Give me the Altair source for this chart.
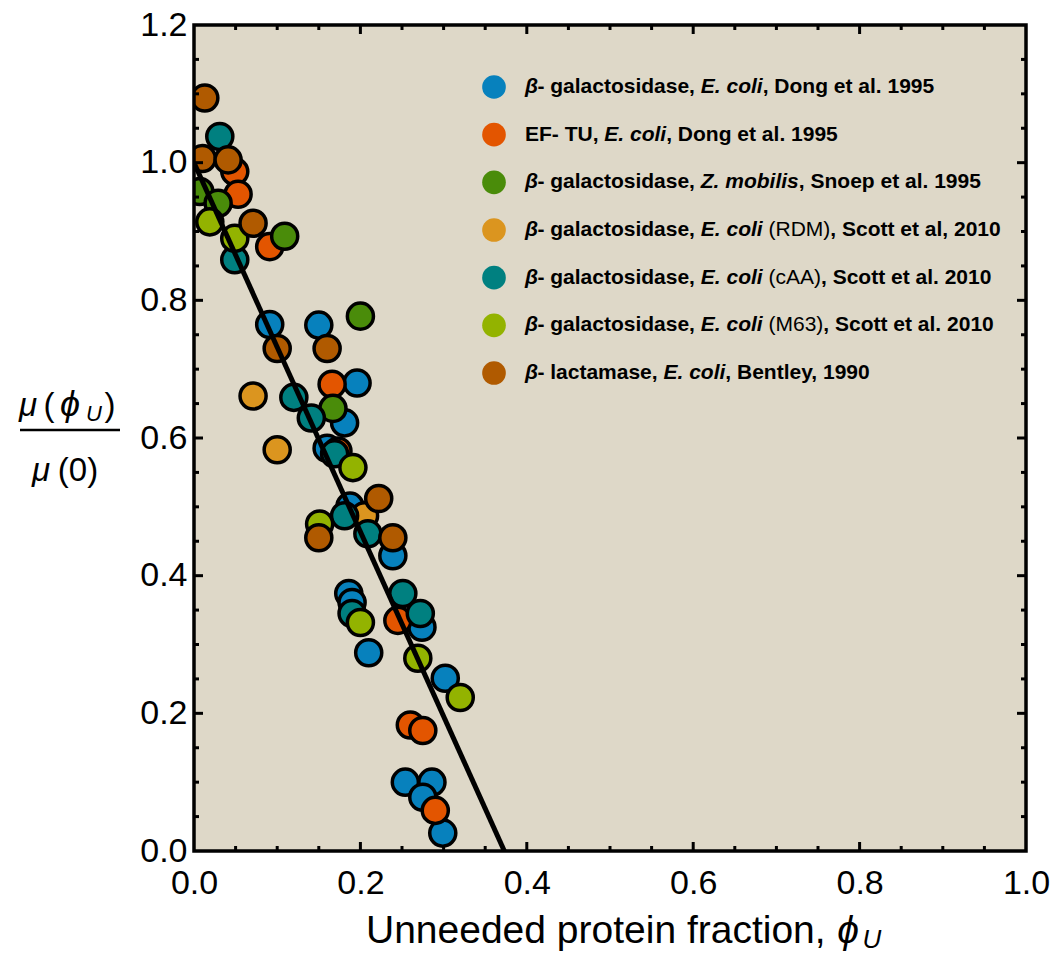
import altair as alt
import pandas as pd

FONT = "Liberation Sans"
BG = "#DED8C8"

series_names = [
    "b-gal E. coli Dong 1995",
    "EF-TU E. coli Dong 1995",
    "b-gal Z. mobilis Snoep 1995",
    "b-gal E. coli RDM Scott 2010",
    "b-gal E. coli cAA Scott 2010",
    "b-gal E. coli M63 Scott 2010",
    "b-lactamase E. coli Bentley 1990",
]
colors = ["#0781BD", "#E35500", "#4A8C0A", "#DB951F", "#008080", "#93B300", "#B05A00"]

blue_x = [0.091, 0.150, 0.196, 0.181, 0.160, 0.1875, 0.239, 0.186, 0.190, 0.210, 0.274, 0.302, 0.254, 0.286, 0.275, 0.299]
blue_y = [0.765, 0.764, 0.680, 0.622, 0.585, 0.501, 0.429, 0.374, 0.361, 0.288, 0.325, 0.251, 0.100, 0.100, 0.078, 0.026]
orange_x = [0.049, 0.053, 0.091, 0.166, 0.173, 0.245, 0.260, 0.275, 0.290]
orange_y = [0.987, 0.954, 0.878, 0.678, 0.581, 0.335, 0.183, 0.175, 0.059]
green_x = [0.007, 0.029, 0.109, 0.200, 0.167]
green_y = [0.958, 0.941, 0.893, 0.777, 0.643]
amber_x = [0.071, 0.100, 0.205]
amber_y = [0.661, 0.583, 0.487]
teal_x = [0.031, 0.049, 0.120, 0.141, 0.169, 0.181, 0.209, 0.251, 0.190, 0.272]
teal_y = [1.038, 0.859, 0.659, 0.629, 0.577, 0.487, 0.461, 0.374, 0.345, 0.345]
ygreen_x = [0.019, 0.049, 0.191, 0.151, 0.200, 0.269, 0.320]
ygreen_y = [0.914, 0.890, 0.557, 0.475, 0.332, 0.280, 0.223]
brown_x = [0.013, 0.010, 0.041, 0.071, 0.100, 0.160, 0.222, 0.150, 0.239]
brown_y = [1.094, 1.006, 1.004, 0.912, 0.730, 0.730, 0.512, 0.455, 0.455]

fit_x = [0.0, 0.373]
fit_y = [1.0, 0.0]

x_labels = [0.0, 0.2, 0.4, 0.6, 0.8, 1.0]
y_labels = [0.0, 0.2, 0.4, 0.6, 0.8, 1.0, 1.2]
x_major = [0.2, 0.4, 0.6, 0.8]
y_major = [0.2, 0.4, 0.6, 0.8, 1.0]
x_minor = [round(i * 0.05, 2) for i in range(1, 20) if i % 4 != 0]
y_minor = [round(i * 0.05, 2) for i in range(1, 24) if i % 4 != 0]

legend_rows = [
    [("β", "bi"), ("- galactosidase, ", "b"), ("E. coli", "bi"), (", Dong et al. 1995", "b")],
    [("EF- TU, ", "b"), ("E. coli", "bi"), (", Dong et al. 1995", "b")],
    [("β", "bi"), ("- galactosidase, ", "b"), ("Z. mobilis", "bi"), (", Snoep et al. 1995", "b")],
    [("β", "bi"), ("- galactosidase, ", "b"), ("E. coli", "bi"), (" ", "b"), ("(RDM)", "r"), (", Scott et al, 2010", "b")],
    [("β", "bi"), ("- galactosidase, ", "b"), ("E. coli", "bi"), (" ", "b"), ("(cAA)", "r"), (", Scott et al. 2010", "b")],
    [("β", "bi"), ("- galactosidase, ", "b"), ("E. coli", "bi"), (" ", "b"), ("(M63)", "r"), (", Scott et al. 2010", "b")],
    [("β", "bi"), ("- lactamase, ", "b"), ("E. coli", "bi"), (", Bentley, 1990", "b")],
]

# Arial/Liberation metrics (per 1000 em)
BOLD_W = {' ': 278, ',': 278, '-': 333, '.': 278, '(': 333, ')': 333,
          'A': 722, 'B': 722, 'C': 722, 'D': 722, 'E': 667, 'F': 611, 'M': 833, 'R': 722,
          'S': 667, 'T': 611, 'U': 722, 'Z': 611,
          'a': 556, 'b': 611, 'c': 556, 'd': 611, 'e': 556, 'f': 333, 'g': 611, 'h': 611,
          'i': 278, 'l': 278, 'm': 889, 'n': 611, 'o': 611, 'p': 611, 's': 556, 't': 333,
          'y': 556, 'β': 590}
REG_W = {' ': 278, ',': 278, '(': 333, ')': 333, 'R': 722, 'D': 722, 'M': 833,
         'c': 500, 'A': 667}


def text_width(s, sty, size):
    table = REG_W if sty in ("r", "i") else BOLD_W
    return sum(table.get(c, 556) for c in s) / 1000.0 * size


TOP = 17
W, H = 832, 826

frames = []
for name, xs_, ys_ in zip(series_names,
                          [blue_x, orange_x, green_x, amber_x, teal_x, ygreen_x, brown_x],
                          [blue_y, orange_y, green_y, amber_y, teal_y, ygreen_y, brown_y]):
    frames.append(pd.DataFrame({"x": xs_, "y": ys_, "series": name}))
pts = pd.concat(frames, ignore_index=True)

color_scale = alt.Scale(domain=series_names, range=colors)
xs = alt.Scale(domain=[0, 1], nice=False, zero=False)
ys = alt.Scale(domain=[0, 1.2], nice=False, zero=False)

x_axis = alt.Axis(values=x_labels, format=".1f", labelFont=FONT, labelFontSize=34, labelColor="black",
                  ticks=False, domain=False, grid=False, title=None, labelPadding=15,
                  labelFlush=False, labelOverlap=False)
y_axis = alt.Axis(values=y_labels, format=".1f", labelFont=FONT, labelFontSize=34, labelColor="black",
                  ticks=False, domain=False, grid=False, title=None, labelPadding=7,
                  labelFlush=False, labelOverlap=False)

points = alt.Chart(pts).mark_circle(size=680, opacity=1, stroke="black", strokeWidth=3.5, clip=True).encode(
    x=alt.X("x:Q", scale=xs, axis=x_axis),
    y=alt.Y("y:Q", scale=ys, axis=y_axis),
    color=alt.Color("series:N", scale=color_scale, legend=None),
)

fit = alt.Chart(pd.DataFrame({"x": fit_x, "y": fit_y})).mark_line(
    color="black", strokeWidth=5, clip=True).encode(
    x=alt.X("x:Q", scale=xs, axis=None),
    y=alt.Y("y:Q", scale=ys, axis=None),
)

TW = 3
MINOR, MAJOR = 5, 9


def xticks(vals, length):
    base = alt.Chart(pd.DataFrame({"t": vals}))
    bot = base.mark_rule(color="black", strokeWidth=TW).encode(
        x=alt.X("t:Q", scale=xs, axis=None), y=alt.value(H), y2=alt.value(H - length))
    top = base.mark_rule(color="black", strokeWidth=TW).encode(
        x=alt.X("t:Q", scale=xs, axis=None), y=alt.value(0), y2=alt.value(length))
    return [bot, top]


def yticks(vals, length):
    base = alt.Chart(pd.DataFrame({"t": vals}))
    left = base.mark_rule(color="black", strokeWidth=TW).encode(
        y=alt.Y("t:Q", scale=ys, axis=None), x=alt.value(0), x2=alt.value(length))
    right = base.mark_rule(color="black", strokeWidth=TW).encode(
        y=alt.Y("t:Q", scale=ys, axis=None), x=alt.value(W), x2=alt.value(W - length))
    return [left, right]


tick_layers = xticks(x_minor, MINOR) + xticks(x_major, MAJOR) + yticks(y_minor, MINOR) + yticks(y_major, MAJOR)

one = pd.DataFrame({"a": [0]})
frame = alt.Chart(one).mark_rect(fillOpacity=0, stroke="black", strokeWidth=3.5).encode(
    x=alt.value(0), x2=alt.value(W), y=alt.value(0), y2=alt.value(H))

# ---- legend (custom, mixed fonts) ----
LEG_SIZE = 21
LEG_CX = 300
LEG_TX = 331
LEG_Y0 = 62
LEG_DY = 47.67
leg_dots = pd.DataFrame({"px": [LEG_CX] * 7,
                         "py": [LEG_Y0 + i * LEG_DY for i in range(7)],
                         "series": series_names})
leg_dot_layer = alt.Chart(leg_dots).mark_circle(size=560, opacity=1).encode(
    x=alt.X("px:Q", scale=None, axis=None),
    y=alt.Y("py:Q", scale=None, axis=None),
    color=alt.Color("series:N", scale=color_scale, legend=None),
)

ann = []
for i, row in enumerate(legend_rows):
    cx = LEG_TX
    for txt, sty in row:
        ann.append({"px": cx, "py": LEG_Y0 + i * LEG_DY, "txt": txt, "sty": sty,
                    "size": LEG_SIZE, "al": "left", "bl": "middle"})
        cx += text_width(txt, sty, LEG_SIZE)

# ---- y title: mu(phi_U) / mu(0) ----
YT = 33
ann += [
    {"px": -166, "py": 391, "txt": "μ", "sty": "i", "size": YT, "al": "center", "bl": "alphabetic"},
    {"px": -145, "py": 391, "txt": "(", "sty": "r", "size": YT, "al": "center", "bl": "alphabetic"},
    {"px": -124, "py": 391, "txt": "ϕ", "sty": "i", "size": 36, "al": "center", "bl": "alphabetic"},
    {"px": -100, "py": 396, "txt": "U", "sty": "i", "size": 22, "al": "center", "bl": "alphabetic"},
    {"px": -84, "py": 391, "txt": ")", "sty": "r", "size": YT, "al": "center", "bl": "alphabetic"},
    {"px": -153, "py": 456, "txt": "μ", "sty": "i", "size": YT, "al": "center", "bl": "alphabetic"},
    {"px": -116, "py": 456, "txt": "(0)", "sty": "r", "size": YT, "al": "center", "bl": "alphabetic"},
    # x title
    {"px": 172, "py": 918, "txt": "Unneeded protein fraction,", "sty": "r", "size": 39, "al": "left", "bl": "alphabetic"},
    {"px": 654, "py": 918, "txt": "ϕ", "sty": "i", "size": 39, "al": "center", "bl": "alphabetic"},
    {"px": 678, "py": 923, "txt": "U", "sty": "i", "size": 26, "al": "center", "bl": "alphabetic"},
]
ann_df = pd.DataFrame(ann)

STY = {"r": ("normal", "normal"), "i": ("normal", "italic"),
       "b": ("bold", "normal"), "bi": ("bold", "italic")}
text_layers = []
for (sty, al, bl), _ in ann_df.groupby(["sty", "al", "bl"]):
    fw, fs = STY[sty]
    text_layers.append(
        alt.Chart(ann_df).transform_filter(
            (alt.datum.sty == sty) & (alt.datum.al == al) & (alt.datum.bl == bl)
        ).mark_text(font=FONT, fontWeight=fw, fontStyle=fs, align=al, baseline=bl, color="black").encode(
            x=alt.X("px:Q", scale=None, axis=None),
            y=alt.Y("py:Q", scale=None, axis=None),
            text="txt:N",
            size=alt.Size("size:Q", scale=None, legend=None),
        )
    )

frac_line = alt.Chart(one).mark_rule(color="black", strokeWidth=2.5).encode(
    x=alt.value(-174), x2=alt.value(-74), y=alt.value(405))

chart = alt.layer(
    points, fit, *tick_layers, frame, leg_dot_layer, frac_line, *text_layers
).resolve_scale(
    x="independent", y="independent"
).properties(
    width=W, height=H,
    autosize=alt.AutoSizeParams(type="none"),
    padding={"left": 186, "top": TOP, "right": 25, "bottom": 102},
).configure_view(
    fill=BG, strokeWidth=0
)

chart.save("out.html", embed_options={"renderer": "svg", "actions": False})
